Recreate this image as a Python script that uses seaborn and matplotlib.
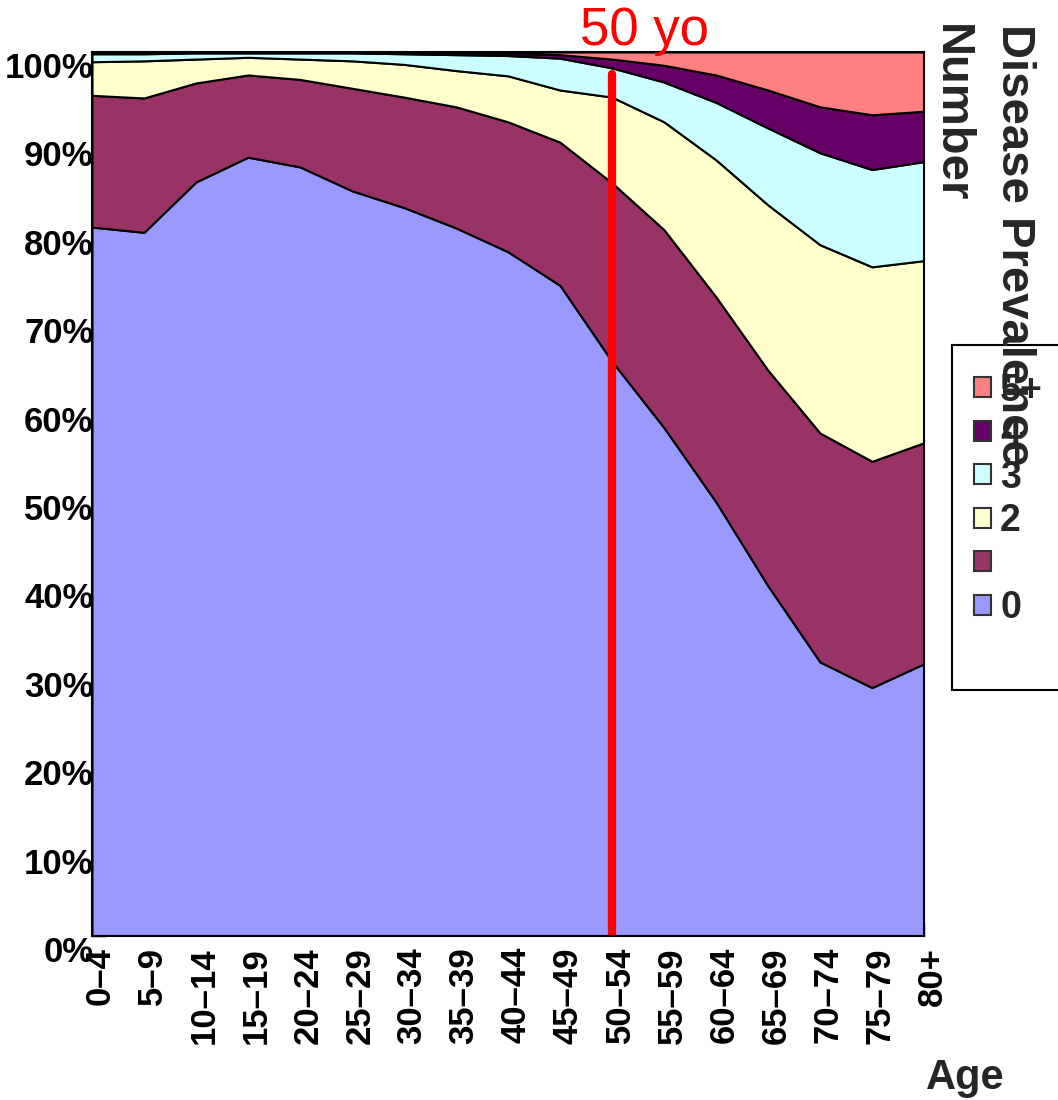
import numpy as np
import pandas as pd
import seaborn as sns
import matplotlib.pyplot as plt
import matplotlib.transforms as mtransforms
from matplotlib.patches import Patch, Rectangle

# Age groups and share (%) of people with 0,1,2,3,4,5+ diseases
age_groups = ["0–4", "5–9", "10–14", "15–19", "20–24", "25–29", "30–34", "35–39",
              "40–44", "45–49", "50–54", "55–59", "60–64", "65–69", "70–74", "75–79", "80+"]
n0 = [80.2, 79.6, 85.3, 88.1, 87.0, 84.3, 82.4, 80.1, 77.4, 73.6, 65.0, 57.5, 49.1, 39.6, 31.0, 28.1, 30.8]
n1 = [14.9, 15.2, 11.2, 9.3, 9.9, 11.6, 12.5, 13.7, 14.7, 16.2, 20.2, 22.4, 23.2, 24.4, 25.9, 25.6, 25.0]
n2 = [3.8, 4.2, 2.7, 2.0, 2.3, 3.1, 3.7, 4.1, 5.2, 5.9, 9.7, 12.2, 15.5, 18.7, 21.3, 22.0, 20.6]
n3 = [0.9, 0.8, 0.7, 0.5, 0.7, 0.9, 1.2, 1.8, 2.3, 3.6, 3.3, 4.5, 6.5, 8.7, 10.4, 11.0, 11.2]
n4 = [0.15, 0.15, 0.05, 0.1, 0.1, 0.05, 0.1, 0.2, 0.25, 0.4, 1.0, 1.9, 3.1, 4.3, 5.2, 6.2, 5.7]
n5 = [0.05, 0.05, 0.05, 0.0, 0.0, 0.05, 0.1, 0.1, 0.15, 0.3, 0.8, 1.5, 2.6, 4.3, 6.2, 7.1, 6.7]
series_labels = ["0", "", "2", "3", "4", "5+"]
colors = ["#9999FF", "#993366", "#FFFFCC", "#CCFFFF", "#660066", "#FF8080"]
marker_group = "50–54"
marker_text = "50 yo"

df = pd.DataFrame({"Age": age_groups, "0": n0, "1": n1, "2": n2, "3": n3, "4": n4, "5+": n5})

sns.set_theme(style="white")
plt.rcParams['font.family'] = ['Liberation Sans', 'DejaVu Sans']

fig = plt.figure(figsize=(10.58, 11), dpi=100)
ax = fig.add_axes([92 / 1058, 164 / 1100, 832 / 1058, 884 / 1100])

x = np.arange(len(age_groups))
ys = [df[c].values for c in ["0", "1", "2", "3", "4", "5+"]]
ax.stackplot(x, ys, colors=colors, edgecolor="black", linewidth=1.5)

ax.set_xlim(0, len(age_groups) - 1)
ax.set_ylim(0, 100)

mx = age_groups.index(marker_group)
ax.axvline(mx, ymin=0, ymax=0.975, color="red", linewidth=6)
ax.text(mx + 0.62, 100.8, marker_text, color="red", fontsize=38, ha="center", va="baseline",
        clip_on=False)

tick_font = dict(fontsize=25, fontweight="bold")
ax.set_yticks(np.arange(0, 101, 10))
ax.set_yticklabels([f"{v}%" for v in range(0, 101, 10)], va="top", **tick_font)
ax.set_xticks(x)
ax.set_xticklabels(age_groups, rotation=90, ha="center", va="top", **tick_font)
ax.tick_params(axis="both", direction="in", length=10, width=1, colors="black",
               bottom=True, left=True)
ax.tick_params(axis="x", pad=8)
ax.tick_params(axis="y", pad=-1)
shift = mtransforms.ScaledTranslation(8 / 100, 0, fig.dpi_scale_trans)
for lbl in ax.get_xticklabels():
    lbl.set_transform(lbl.get_transform() + shift)
for s in ax.spines.values():
    s.set_color("black")
    s.set_linewidth(1.5)

fig.text(965 / 1058, 1 - 1078 / 1100, "Age", fontsize=30, fontweight="bold", ha="center",
         va="center")
fig.text(929 / 1058, 1 - 24 / 1100, "Disease Prevalence\nNumber", rotation=-90,
         fontsize=34, fontweight="bold", ha="left", va="top", linespacing=1.55, zorder=10)

# legend box
fig.add_artist(Rectangle((952 / 1058, 1 - 690 / 1100), 120 / 1058, 345 / 1100,
                         transform=fig.transFigure, facecolor="white", edgecolor="black",
                         linewidth=1.5, zorder=4))
handles = [Patch(facecolor=c, edgecolor="#333333", linewidth=1.5) for c in colors][::-1]
leg = fig.legend(handles, series_labels[::-1], loc="upper left",
                 bbox_to_anchor=(955 / 1058, 1 - 354 / 1100), frameon=False,
                 handlelength=0.45, handleheight=0.45, handletextpad=0.25, labelspacing=0.2,
                 borderpad=0.0, prop=dict(size=27, weight="bold"))
leg.set_zorder(5)

fig.savefig("out.png", dpi=100)
